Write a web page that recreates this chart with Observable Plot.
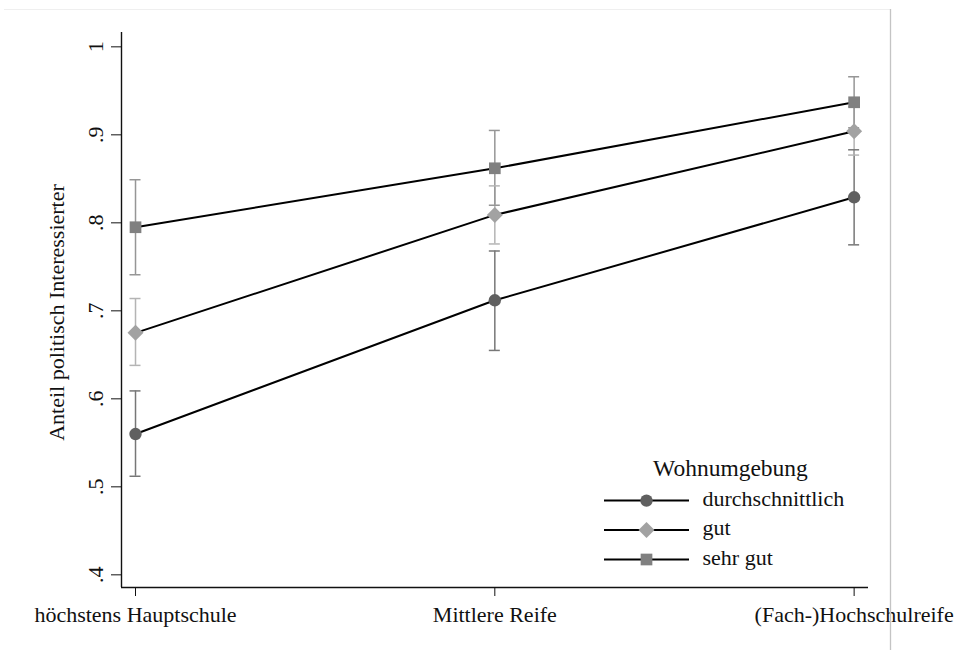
<!DOCTYPE html>
<html>
<head>
<meta charset="utf-8">
<script src="https://cdn.jsdelivr.net/npm/d3@7"></script>
<script src="https://cdn.jsdelivr.net/npm/@observablehq/plot@0.6"></script>
<style>
  html, body { margin: 0; padding: 0; background: white; }
  #wrap { position: relative; width: 959px; height: 650px; overflow: hidden; }
  #wrap svg { display: block; }
  .deco { position: absolute; }
</style>
</head>
<body>
<div id="wrap"></div>
<script>
// ---- data ----
const categories = ["höchstens Hauptschule", "Mittlere Reife", "(Fach-)Hochschulreife"];
const groups = ["durchschnittlich", "gut", "sehr gut"];

const meanDurch = [0.560, 0.712, 0.829];
const loDurch   = [0.512, 0.655, 0.775];
const hiDurch   = [0.609, 0.768, 0.883];

const meanGut = [0.675, 0.809, 0.904];
const loGut   = [0.638, 0.776, 0.877];
const hiGut   = [0.714, 0.842, 0.932];

const meanSehrGut = [0.795, 0.862, 0.937];
const loSehrGut   = [0.741, 0.820, 0.908];
const hiSehrGut   = [0.849, 0.905, 0.966];

const yTicks = [0.4, 0.5, 0.6, 0.7, 0.8, 0.9, 1.0];
const yTickLabels = [".4", ".5", ".6", ".7", ".8", ".9", "1"];
const yLabel = "Anteil politisch Interessierter";
const legendTitle = "Wohnumgebung";

// ---- styles ----
const font = "'Liberation Serif', 'Times New Roman', serif";
const markerFill = {"durchschnittlich": "#606060", "gut": "#a2a2a2", "sehr gut": "#808080"};
const ciStroke   = {"durchschnittlich": "#777777", "gut": "#b4b4b4", "sehr gut": "#969696"};
const symbolOf   = {"durchschnittlich": "circle", "gut": "diamond2", "sehr gut": "square"};
const rOf        = {"durchschnittlich": 6.2, "gut": 7.2, "sehr gut": 6.6};

const means = [meanDurch, meanGut, meanSehrGut];
const los = [loDurch, loGut, loSehrGut];
const his = [hiDurch, hiGut, hiSehrGut];

const rows = [];
groups.forEach((g, gi) => categories.forEach((c, ci) => rows.push({
  cat: c, i: ci, group: g, mean: means[gi][ci], lo: los[gi][ci], hi: his[gi][ci]
})));

const xDomain = [-0.039, 2.04];
const yDomain = [0.3856, 1.0163];

const chart = Plot.plot({
  width: 959,
  height: 650,
  marginTop: 32,
  marginBottom: 63,
  marginLeft: 121,
  marginRight: 91,
  style: {fontFamily: font, fontSize: "22px", color: "#111", background: "white", overflow: "visible"},
  x: {domain: xDomain, axis: null},
  y: {domain: yDomain, axis: null},
  marks: [
    Plot.ruleX([xDomain[0]], {stroke: "#111", strokeWidth: 1.4}),
    Plot.ruleY([yDomain[0]], {stroke: "#111", strokeWidth: 1.4}),
    Plot.axisY(yTicks, {tickSize: 10, tickFormat: () => "", stroke: "#111", label: null}),
    Plot.text(yTicks, {y: d => d, text: (d, i) => yTickLabels[i], frameAnchor: "left", dx: -18.5,
      rotate: -90, lineAnchor: "bottom", textAnchor: "middle", fontSize: 22, fill: "#111"}),
    Plot.axisX([0, 1, 2], {tickSize: 9, tickPadding: 10, tickFormat: i => categories[i],
      fontSize: 22, stroke: "#111", fill: "#111", label: null}),
    Plot.text([yLabel], {text: d => d, frameAnchor: "left", dx: -58, dy: 2.5, rotate: -90,
      lineAnchor: "bottom", textAnchor: "middle", fontSize: 22, fill: "#111"}),
    // confidence intervals
    Plot.ruleX(rows, {x: "i", y1: "lo", y2: "hi", stroke: d => ciStroke[d.group], strokeWidth: 1.5}),
    Plot.ruleY(rows, {x1: "i", x2: "i", y: "lo", insetLeft: -5.5, insetRight: -5.5, stroke: d => ciStroke[d.group], strokeWidth: 1.5}),
    Plot.ruleY(rows, {x1: "i", x2: "i", y: "hi", insetLeft: -5.5, insetRight: -5.5, stroke: d => ciStroke[d.group], strokeWidth: 1.5}),
    // lines
    Plot.line(rows, {x: "i", y: "mean", z: "group", stroke: "#000", strokeWidth: 2}),
    // markers
    ...groups.map(g => Plot.dot(rows.filter(d => d.group === g), {
      x: "i", y: "mean", symbol: symbolOf[g], r: rOf[g], fill: markerFill[g], stroke: "none"
    }))
  ]
});

const wrap = document.getElementById("wrap");
wrap.appendChild(chart);

// ---- legend (inside plot region) ----
const leg = d3.select(wrap).append("svg")
  .attr("class", "deco")
  .style("left", "0px").style("top", "0px")
  .attr("width", 959).attr("height", 650)
  .style("pointer-events", "none")
  .style("font-family", font);

leg.append("text").attr("x", 730.5).attr("y", 475.5).attr("text-anchor", "middle")
  .attr("font-size", 23.5).attr("fill", "#111").text(legendTitle);

const rowY = [500.6, 530, 559.5];
const symMap = {circle: d3.symbolCircle, diamond2: d3.symbolDiamond2, square: d3.symbolSquare};
groups.forEach((g, k) => {
  const y = rowY[k];
  leg.append("line").attr("x1", 604).attr("x2", 689).attr("y1", y).attr("y2", y)
    .attr("stroke", "#000").attr("stroke-width", 2);
  leg.append("path")
    .attr("d", d3.symbol(symMap[symbolOf[g]], Math.PI * rOf[g] * rOf[g])())
    .attr("transform", `translate(646.5,${y})`)
    .attr("fill", markerFill[g]);
  leg.append("text").attr("x", 702.5).attr("y", y + 5).attr("font-size", 22)
    .attr("fill", "#111").text(g);
});

// ---- outer graph border fragments ----
leg.append("line").attr("x1", 4).attr("x2", 890).attr("y1", 9.5).attr("y2", 9.5)
  .attr("stroke", "#efefef").attr("stroke-width", 1);
leg.append("line").attr("x1", 890.5).attr("x2", 890.5).attr("y1", 9).attr("y2", 650)
  .attr("stroke", "#c4c4c4").attr("stroke-width", 1.3);
</script>
</body>
</html>
